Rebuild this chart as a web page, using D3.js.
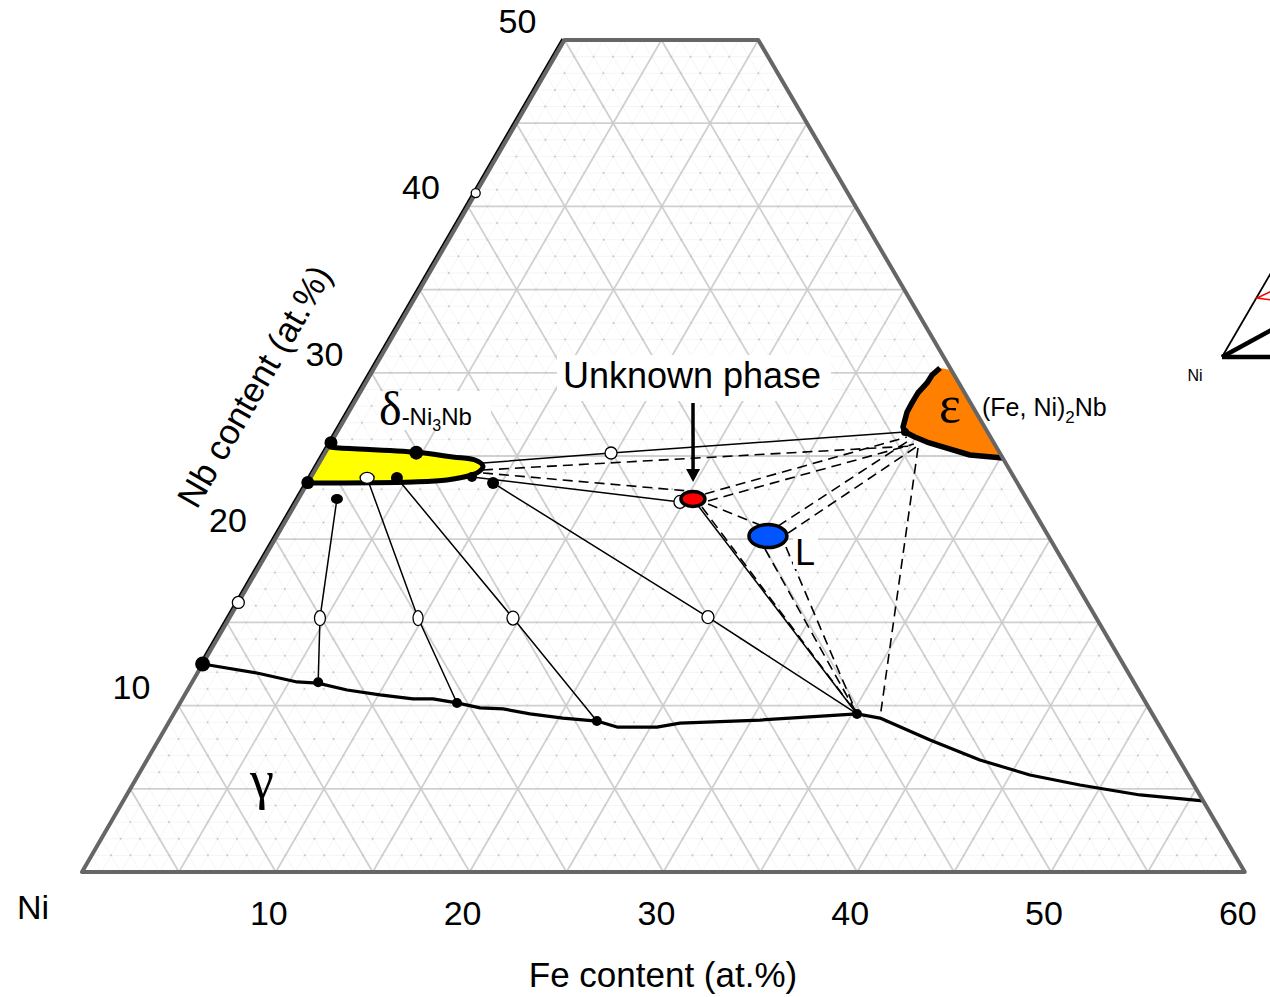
<!DOCTYPE html>
<html><head><meta charset="utf-8">
<script src="https://cdn.jsdelivr.net/npm/d3@7"></script>
<style>body{margin:0;background:#fff} svg{display:block}</style>
</head><body>
<svg id="chart" width="1270" height="997"></svg>
<script>
// ---------------- data (Fe at.%, Nb at.%) ----------------
const feTicks = [10, 20, 30, 40, 50, 60];
const nbTicks = [10, 20, 30, 40, 50];

const gammaSolvus = [[0,12.5],[3.07,11.96],[5.41,11.42],[6.51,11.35],[8.23,10.94],[10.08,10.64],[11.9,10.4],[12.93,10.4],[14.29,10.16],[15.63,9.86],[16.85,9.8],[18.39,9.5],[20.21,9.25],[22.05,9.07],[23.27,8.71],[25.33,8.71],[26.4,8.95],[30.44,9.13],[35.26,9.5],[36.57,9.25],[39.81,7.93],[42.98,6.73],[46.01,5.83],[48.89,5.23],[52.29,4.63],[55.72,4.27]];

const deltaRegion = [[0,25.55],[0.4,25.5],[4.7,25.22],[6.72,24.94],[7.95,24.76],[8.54,24.4],[8.53,24.1],[8.24,23.86],[7.1,23.56],[5.41,23.44],[0,23.38]];

const epsRegion = [[29.82,30.17],[29.19,30.29],[28.99,29.87],[28.97,29.39],[28.8,28.79],[28.79,28.19],[28.81,27.64],[29.05,26.74],[29.3,26.44],[29.96,26.14],[30.73,25.84],[31.94,25.48],[33.34,25.06],[35.13,24.88]];

// solid tie lines (gamma - delta) through alloy points
const tieLines = [
  [[1.99,22.42],[4.68,15.26],[6.51,11.4]],
  [[2.92,23.68],[9.74,15.26],[14.29,10.16]],
  [[4.46,23.68],[14.64,15.26],[22.05,9.07]],
  [[9.57,23.38],[24.67,15.32],[35.26,9.5]]
];
const solidLines = [
  [[8.45,24.58],[14.76,25.18],[29.3,26.44]],
  [[8.30,23.74],[19.78,22.24]],
  [[20.36,22.42],[35.26,9.5]]
];
const dashedLines = [
  [[8.66,24.16],[30.08,25.6]],
  [[8.75,23.98],[19.87,22.9]],
  [[20.83,22.72],[29.55,26.14]],
  [[21.2,22.3],[30.12,25.72]],
  [[21.29,22.12],[24.6,20.85]],
  [[25.56,20.79],[29.73,25.9]],
  [[26.29,20.37],[30.32,25.54]],
  [[26.6,19.53],[35.26,9.5]],
  [[21.07,21.93],[35.26,9.5]],
  [[25.58,19.41],[35.26,9.5]],
  [[30.45,25.48],[36.57,9.25]]
];

const blackDots = [[0,12.5,7.5],[0,25.8,6.5],[0,23.4,6.5],[4.7,25.2,7],[4.46,23.68,6],[8.30,23.74,5],[9.57,23.38,6],[6.51,11.4,5],[14.29,10.16,5],[22.05,9.07,5],[35.26,9.5,5],[29.3,26.44,4]];
const blackEllipse = [[1.99,22.42,6,5]];
const openDots = [[2.92,23.68,7,5.5],[14.76,25.18,6,6],[19.78,22.24,6,6.5],[4.68,15.26,5.5,7.5],[9.74,15.26,5,7.5],[14.64,15.26,6,7],[24.67,15.32,6,6.5],[0,16.2,6,6],[0,40.8,4.5,4.5]];
const phaseEllipses = [
  {name:"unknown", pt:[20.36,22.42], rx:12, ry:7.5, fill:"#FF0000"},
  {name:"L", pt:[25.34,20.19], rx:19, ry:11.5, fill:"#0055FF"}
];
const arrowPts = [[17.49,28.19],[19.86,23.44]];

// fragment of neighbouring figure (pixels, cropped at right edge)
const insetLines = [[1222,357,1275,266,1.8],[1222,357,1275,328,4.5],[1222,357,1275,357,4.5]];
const insetRed = [[1272,291],[1257,298],[1272,300]];

// ---------------- geometry ----------------
const X0 = 82, Y0 = 872, SX = 19.38, KX = 9.65, SY = 16.64;
const xFe = d3.scaleLinear().domain([0,60]).range([X0, X0 + 60*SX]);
const yNb = d3.scaleLinear().domain([0,50]).range([Y0, Y0 - 50*SY]);
const skew = d3.scaleLinear().domain([0,50]).range([0, 50*KX]);
const P = (a,c) => [xFe(a) + skew(c), yNb(c)];

const svg = d3.select("#chart");
const sans = "'Liberation Sans', Arial, sans-serif";
const serif = "'Liberation Serif', 'Times New Roman', serif";

// ---------------- grid ----------------
const gGrid = svg.append("g");
function gridSeg(k){
  const segs = [];
  if (k < 50) segs.push([P(0,k), P(60-k,k)]);
  if (k < 60) segs.push([P(k,0), P(k, Math.min(50, 60-k))]);
  if (k <= 50) segs.push([P(0,k), P(k,0)]); else if (k < 60) segs.push([P(k-50,50), P(k,0)]);
  return segs;
}
for (let k = 1; k < 60; k++) {
  const major = k % 5 === 0;
  gridSeg(k).forEach(s => {
    gGrid.append("line").attr("x1",s[0][0]).attr("y1",s[0][1]).attr("x2",s[1][0]).attr("y2",s[1][1])
      .attr("stroke", major ? "#d0d0d0" : "#f3f3f3").attr("stroke-width", major ? 1.8 : 0.8);
  });
}
for (let c = 1; c < 50; c++) for (let a = 1; a < 60 - c; a++) {
  const p = P(a,c);
  gGrid.append("circle").attr("cx",p[0]).attr("cy",p[1]).attr("r",1).attr("fill","#c8c8c8");
}

// ---------------- phase regions ----------------
const lineGen = d3.line().x(d => P(d[0],d[1])[0]).y(d => P(d[0],d[1])[1]);
const smooth = d3.line().x(d => P(d[0],d[1])[0]).y(d => P(d[0],d[1])[1]).curve(d3.curveCatmullRom.alpha(0.5));

svg.append("path").attr("d", smooth(deltaRegion) + "Z").attr("fill","#FFFF00");
svg.append("path").attr("d", lineGen(epsRegion) + "Z").attr("fill","#FF8000");

// ---------------- tie lines ----------------
tieLines.forEach(l => svg.append("path").attr("d", lineGen(l)).attr("fill","none").attr("stroke","#000").attr("stroke-width",1.5));
solidLines.forEach(l => svg.append("path").attr("d", lineGen(l)).attr("fill","none").attr("stroke","#000").attr("stroke-width",1.5));
dashedLines.forEach(l => svg.append("path").attr("d", lineGen(l)).attr("fill","none").attr("stroke","#000").attr("stroke-width",1.6).attr("stroke-dasharray","10,6"));

// region outlines
svg.append("path").attr("d", smooth(deltaRegion)).attr("fill","none").attr("stroke","#000").attr("stroke-width",5).attr("stroke-linejoin","round").attr("stroke-linecap","round");
svg.append("path").attr("d", lineGen(epsRegion.slice(1))).attr("fill","none").attr("stroke","#000").attr("stroke-width",5.5).attr("stroke-linejoin","round");

// gamma solvus
svg.append("path").attr("d", lineGen(gammaSolvus)).attr("fill","none").attr("stroke","#000").attr("stroke-width",3.2).attr("stroke-linejoin","round");

// ---------------- border ----------------
const border = [[0,0],[60,0],[10,50],[0,50]];
svg.append("path").attr("d", lineGen(border) + "Z").attr("fill","none").attr("stroke","#666").attr("stroke-width",4).attr("stroke-linejoin","round");
// black line along left edge
{
  const a = P(0,12.5), b = P(0,50);
  svg.append("line").attr("x1",a[0]-2.3).attr("y1",a[1]-1.3).attr("x2",b[0]-2.3).attr("y2",b[1]-1.3)
    .attr("stroke","#000").attr("stroke-width",1.6);
}

// ---------------- points ----------------
blackDots.forEach(d => { const p = P(d[0],d[1]); svg.append("circle").attr("cx",p[0]).attr("cy",p[1]).attr("r",d[2]).attr("fill","#000"); });
blackEllipse.forEach(d => { const p = P(d[0],d[1]); svg.append("ellipse").attr("cx",p[0]).attr("cy",p[1]).attr("rx",d[2]).attr("ry",d[3]).attr("fill","#000"); });
openDots.forEach(d => { const p = P(d[0],d[1]); svg.append("ellipse").attr("cx",p[0]).attr("cy",p[1]).attr("rx",d[2]).attr("ry",d[3]).attr("fill","#fff").attr("stroke","#000").attr("stroke-width",1.3); });
phaseEllipses.forEach(e => { const p = P(e.pt[0],e.pt[1]); svg.append("ellipse").attr("cx",p[0]).attr("cy",p[1]).attr("rx",e.rx).attr("ry",e.ry).attr("fill",e.fill).attr("stroke","#000").attr("stroke-width",3.5); });

// ---------------- labels ----------------
function whiteBox(x,y,w,h){ svg.append("rect").attr("x",x).attr("y",y).attr("width",w).attr("height",h).attr("fill","#fff"); }

// arrow
{
  const s = P(...arrowPts[0]), t = P(...arrowPts[1]);
  svg.append("line").attr("x1",s[0]).attr("y1",s[1]).attr("x2",t[0]).attr("y2",t[1]-10).attr("stroke","#000").attr("stroke-width",3.5);
  svg.append("path").attr("d",`M${t[0]},${t[1]} L${t[0]-7},${t[1]-13} L${t[0]+7},${t[1]-13} Z`).attr("fill","#000");
}

whiteBox(557, 355, 274, 46);
svg.append("text").attr("x",692).attr("y",388).attr("text-anchor","middle").attr("font-family",sans).attr("font-size",36).text("Unknown phase");

whiteBox(377, 391, 114, 39);
const dl = svg.append("text").attr("x",379).attr("y",425).attr("font-family",sans).attr("font-size",24);
dl.append("tspan").attr("font-family",serif).attr("font-size",48).text("δ");
dl.append("tspan").text("-Ni");
dl.append("tspan").attr("font-size",16).attr("dy",6).text("3");
dl.append("tspan").attr("dy",-6).text("Nb");

svg.append("text").attr("x",950).attr("y",422).attr("text-anchor","middle").attr("font-family",serif).attr("font-size",52).text("ε");
const fl = svg.append("text").attr("x",982).attr("y",416).attr("font-family",sans).attr("font-size",25);
fl.append("tspan").text("(Fe, Ni)");
fl.append("tspan").attr("font-size",17).attr("dy",7).text("2");
fl.append("tspan").attr("dy",-7).text("Nb");

whiteBox(793, 533, 25, 36);
svg.append("text").attr("x",805).attr("y",565).attr("text-anchor","middle").attr("font-family",sans).attr("font-size",36).text("L");

svg.append("text").attr("x",262).attr("y",798).attr("text-anchor","middle").attr("font-family",serif).attr("font-size",54).text("γ");

// ticks
feTicks.forEach(v => { const p = P(v,0); svg.append("text").attr("x",p[0]-7).attr("y",p[1]+53).attr("text-anchor","middle").attr("font-family",sans).attr("font-size",34).text(v); });
nbTicks.forEach(v => { const p = P(0,v); svg.append("text").attr("x",p[0]-47).attr("y",p[1]-19).attr("dominant-baseline","central").attr("text-anchor","middle").attr("font-family",sans).attr("font-size",34).text(v); });
svg.append("text").attr("x",33).attr("y",919).attr("text-anchor","middle").attr("font-family",sans).attr("font-size",34).text("Ni");
svg.append("text").attr("x",663).attr("y",987).attr("text-anchor","middle").attr("font-family",sans).attr("font-size",35).text("Fe content (at.%)");
svg.append("text").attr("transform","translate(254,386) rotate(-60)").attr("text-anchor","middle").attr("dominant-baseline","central").attr("font-family",sans).attr("font-size",35).text("Nb content (at.%)");

// inset fragment
insetLines.forEach(l => svg.append("line").attr("x1",l[0]).attr("y1",l[1]).attr("x2",l[2]).attr("y2",l[3]).attr("stroke","#000").attr("stroke-width",l[4]));
svg.append("path").attr("d", d3.line()(insetRed)).attr("fill","none").attr("stroke","#ff0000").attr("stroke-width",1.6);
svg.append("text").attr("x",1195).attr("y",381).attr("text-anchor","middle").attr("font-family",sans).attr("font-size",16).text("Ni");
</script>
</body></html>
